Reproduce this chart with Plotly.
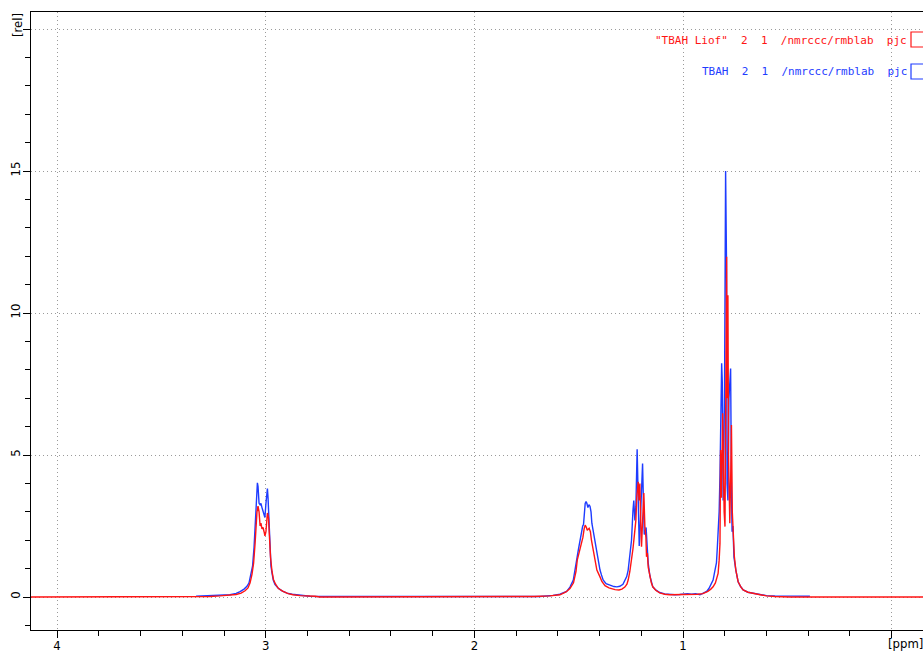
import plotly.graph_objects as go

# 1H spectra of tetrabutylammonium hydroxide: chemical shift (ppm) and relative intensity
tbah_ppm = [
    3.334, 3.291, 3.243, 3.209, 3.171, 3.142, 3.123, 3.104, 3.090, 3.080, 3.071,
    3.063, 3.056, 3.051, 3.046, 3.043, 3.040, 3.037, 3.032, 3.027, 3.023, 3.018,
    3.013, 3.008, 3.004, 2.999, 2.992, 2.989, 2.984, 2.979, 2.975, 2.970, 2.964,
    2.956, 2.941, 2.922, 2.898, 2.874, 2.836, 2.788, 2.740, 2.300, 1.900, 1.686,
    1.623, 1.590, 1.558, 1.542, 1.526, 1.518, 1.510, 1.501, 1.494, 1.487, 1.481,
    1.477, 1.473, 1.469, 1.465, 1.461, 1.456, 1.451, 1.446, 1.441, 1.437, 1.430,
    1.422, 1.415, 1.406, 1.398, 1.391, 1.383, 1.369, 1.350, 1.331, 1.317, 1.303,
    1.288, 1.279, 1.270, 1.263, 1.255, 1.247, 1.240, 1.236, 1.231, 1.226, 1.220,
    1.217, 1.210, 1.205, 1.200, 1.194, 1.190, 1.186, 1.181, 1.177, 1.172, 1.167,
    1.159, 1.152, 1.145, 1.131, 1.112, 1.088, 1.064, 1.040, 1.016, 0.997, 0.978,
    0.959, 0.940, 0.919, 0.905, 0.887, 0.876, 0.867, 0.856, 0.848, 0.840, 0.836,
    0.832, 0.827, 0.823, 0.820, 0.815, 0.812, 0.808, 0.804, 0.801, 0.796, 0.792,
    0.789, 0.785, 0.780, 0.772, 0.768, 0.765, 0.761, 0.756, 0.747, 0.736, 0.725,
    0.712, 0.689, 0.664, 0.646, 0.632, 0.600, 0.560, 0.488, 0.392,
]
tbah_int = [
    0.03, 0.04, 0.05, 0.06, 0.08, 0.13, 0.19, 0.28, 0.38, 0.50, 0.80,
    1.10, 1.75, 2.40, 3.30, 3.35, 4.02, 3.90, 3.30, 3.25, 3.30, 3.15,
    3.00, 2.90, 2.80, 3.30, 3.82, 3.50, 2.70, 1.60, 1.10, 0.85, 0.60,
    0.45, 0.32, 0.22, 0.14, 0.10, 0.06, 0.03, 0.02, 0.01, 0.01, 0.02,
    0.06, 0.10, 0.20, 0.35, 0.60, 0.90, 1.30, 1.70, 2.00, 2.35, 2.50,
    2.55, 3.00, 3.30, 3.36, 3.30, 3.15, 3.25, 3.20, 3.00, 2.60, 2.30,
    2.00, 1.55, 1.20, 0.95, 0.78, 0.60, 0.47, 0.41, 0.37, 0.36, 0.38,
    0.45, 0.58, 0.72, 0.95, 1.42, 2.00, 3.05, 3.40, 2.70, 3.20, 5.20,
    4.40, 1.80, 2.60, 3.90, 4.70, 3.40, 2.20, 2.30, 2.45, 1.80, 1.20,
    0.75, 0.50, 0.36, 0.25, 0.16, 0.11, 0.09, 0.08, 0.09, 0.10, 0.12,
    0.10, 0.12, 0.08, 0.13, 0.20, 0.30, 0.42, 0.60, 0.90, 1.20, 1.70,
    2.25, 3.00, 4.30, 5.50, 8.23, 7.60, 3.40, 5.30, 7.50, 15.00, 12.00,
    4.00, 3.40, 7.00, 8.05, 3.80, 2.30, 2.50, 1.40, 0.95, 0.54, 0.38,
    0.25, 0.17, 0.13, 0.12, 0.10, 0.05, 0.04, 0.03, 0.03,
]

liof_ppm = [
    4.130, 3.315, 3.267, 3.219, 3.171, 3.142, 3.118, 3.099, 3.085, 3.075, 3.066,
    3.058, 3.051, 3.046, 3.042, 3.037, 3.032, 3.027, 3.023, 3.018, 3.013, 3.008,
    3.004, 2.999, 2.992, 2.987, 2.982, 2.977, 2.970, 2.963, 2.953, 2.939, 2.917,
    2.893, 2.869, 2.836, 2.764, 2.740, 1.714, 1.638, 1.590, 1.561, 1.542, 1.525,
    1.513, 1.507, 1.497, 1.486, 1.480, 1.474, 1.469, 1.463, 1.459, 1.450, 1.444,
    1.439, 1.430, 1.422, 1.413, 1.398, 1.389, 1.374, 1.355, 1.326, 1.307, 1.293,
    1.279, 1.269, 1.263, 1.255, 1.247, 1.240, 1.233, 1.226, 1.222, 1.215, 1.211,
    1.207, 1.202, 1.199, 1.195, 1.191, 1.188, 1.183, 1.178, 1.175, 1.171, 1.167,
    1.159, 1.152, 1.145, 1.131, 1.112, 1.088, 1.064, 1.016, 0.968, 0.930, 0.905,
    0.881, 0.867, 0.856, 0.845, 0.838, 0.832, 0.827, 0.823, 0.820, 0.816, 0.810,
    0.806, 0.803, 0.799, 0.795, 0.791, 0.789, 0.785, 0.782, 0.779, 0.776, 0.771,
    0.768, 0.764, 0.759, 0.754, 0.747, 0.736, 0.723, 0.712, 0.689, 0.664, 0.632,
    0.600, 0.560, 0.488, -0.150,
]
liof_int = [
    0.00, 0.00, 0.02, 0.04, 0.06, 0.09, 0.14, 0.22, 0.32, 0.50, 0.80,
    1.20, 1.90, 2.80, 3.00, 3.20, 3.00, 2.50, 2.60, 2.40, 2.45, 2.30,
    2.15, 2.30, 2.96, 2.80, 2.00, 1.40, 0.90, 0.62, 0.45, 0.30, 0.20,
    0.12, 0.08, 0.05, 0.03, 0.00, 0.02, 0.04, 0.08, 0.18, 0.30, 0.50,
    0.90, 1.30, 1.60, 1.89, 2.10, 2.40, 2.53, 2.45, 2.35, 2.42, 2.30,
    2.00, 1.65, 1.30, 0.95, 0.71, 0.55, 0.40, 0.32, 0.26, 0.25, 0.28,
    0.35, 0.45, 0.60, 0.90, 1.30, 1.70, 2.20, 2.71, 3.50, 4.06, 3.40,
    4.00, 2.40, 1.77, 2.50, 3.10, 3.66, 2.50, 2.10, 1.42, 1.55, 1.05,
    0.70, 0.50, 0.36, 0.24, 0.15, 0.10, 0.08, 0.08, 0.09, 0.10, 0.12,
    0.20, 0.28, 0.36, 0.50, 0.65, 0.83, 1.30, 1.89, 5.18, 3.50, 6.47,
    4.00, 3.00, 2.48, 6.50, 11.98, 7.00, 10.63, 5.00, 3.50, 2.60, 4.50,
    6.06, 3.00, 2.20, 1.42, 0.95, 0.54, 0.36, 0.25, 0.17, 0.13, 0.10,
    0.04, 0.02, 0.00, 0.00,
]

x_tick_vals = [4, 3, 2, 1, 0]
x_tick_text = ["4", "3", "2", "1", ""]
y_tick_vals = [0, 5, 10, 15, 20]
y_tick_text = ["0", "5", "10", "15", ""]

legend_labels = [
    '"TBAH Liof"  2  1  /nmrccc/rmblab  pjc',
    "TBAH  2  1  /nmrccc/rmblab  pjc",
]
blue = "#1e3cff"
red = "#ff1414"

fig = go.Figure()
fig.add_trace(go.Scatter(x=tbah_ppm, y=tbah_int, mode="lines",
                         line=dict(color=blue, width=1.4), hoverinfo="skip"))
fig.add_trace(go.Scatter(x=liof_ppm, y=liof_int, mode="lines",
                         line=dict(color=red, width=1.4), hoverinfo="skip"))

tick_font = dict(family="DejaVu Sans Condensed, DejaVu Sans", size=13, color="#000")
grid_dash = "1px,3px"

fig.update_layout(
    width=923, height=652,
    margin=dict(l=31, r=0, t=12, b=22, autoexpand=False),
    paper_bgcolor="white", plot_bgcolor="white",
    showlegend=False,
    xaxis=dict(
        range=[4.125, -0.15], autorange=False, automargin=False,
        tickvals=x_tick_vals, ticktext=x_tick_text,
        ticks="outside", ticklen=7, tickwidth=1, tickcolor="#000",
        ticklabelstandoff=-4,
        showline=True, linecolor="#000", linewidth=1, mirror=True,
        showgrid=True, gridcolor="#9a9a9a", gridwidth=1, griddash=grid_dash,
        zeroline=False, tickfont=tick_font,
        minor=dict(dtick=0.2, tick0=0, ticks="outside", ticklen=5,
                   tickcolor="#000", showgrid=False),
    ),
    yaxis=dict(
        range=[-1.16, 20.6], autorange=False, automargin=False,
        tickvals=y_tick_vals, ticktext=y_tick_text, tickangle=-90,
        ticks="outside", ticklen=7, tickwidth=1, tickcolor="#000",
        ticklabelstandoff=-2,
        showline=True, linecolor="#000", linewidth=1, mirror=False,
        showgrid=True, gridcolor="#9a9a9a", gridwidth=1, griddash=grid_dash,
        zeroline=False, tickfont=tick_font,
        minor=dict(dtick=1, tick0=0, ticks="outside", ticklen=5,
                   tickcolor="#000", showgrid=False),
    ),
)

# unit labels on the axes
fig.add_annotation(text="[ppm]", xref="paper", yref="paper",
                   x=(905 - 31) / 892, y=-(643 - 630) / 618,
                   showarrow=False, font=tick_font, xanchor="center", yanchor="middle")
fig.add_annotation(text="[rel]", xref="paper", yref="paper",
                   x=-(31 - 17) / 892, y=(630 - 25) / 618, textangle=-90,
                   showarrow=False, font=tick_font, xanchor="center", yanchor="middle")

# dataset titles with colour boxes in the top right corner
legend_font = dict(family="DejaVu Sans Mono", size=11)
for label, color, y_px in [(legend_labels[0], red, 40), (legend_labels[1], blue, 72)]:
    fig.add_annotation(text=label.replace(" ", "\u00a0"), xref="paper", yref="paper",
                       x=(909 - 31) / 892, y=(630 - y_px) / 618,
                       xanchor="right", yanchor="middle", showarrow=False,
                       font=dict(color=color, **legend_font))
    fig.add_shape(type="rect", xref="paper", yref="paper",
                  x0=(911 - 31) / 892, x1=(930 - 31) / 892,
                  y0=(630 - y_px - 7) / 618, y1=(630 - y_px + 8) / 618,
                  line=dict(color=color, width=1.2))

fig.write_html("out.html")
